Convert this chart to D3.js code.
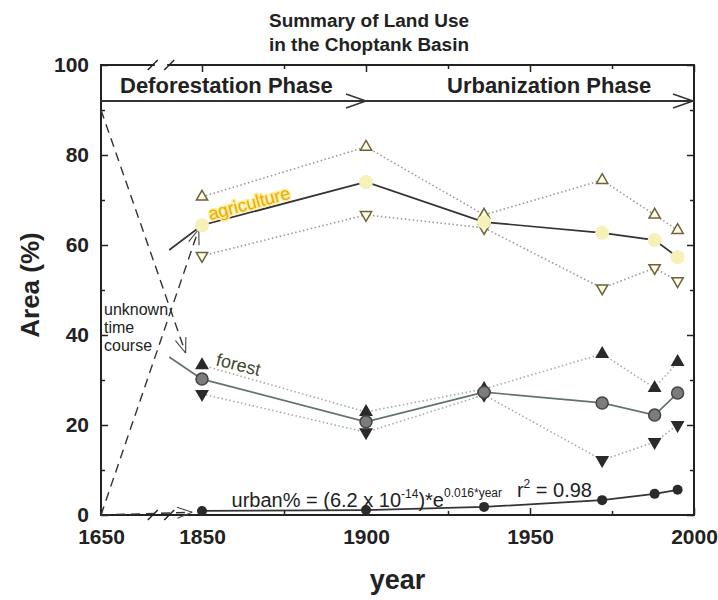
<!DOCTYPE html>
<html>
  <head>
    <meta charset="utf-8">
    <script src="https://d3js.org/d3.v7.min.js"></script>
    <title>Summary of Land Use in the Choptank Basin</title>
    <style>
      body {
        margin: 0px;
        background: #fff;
      }
      text {
        font-family: "Liberation Sans", Arial, sans-serif;
        fill: #222;
      }
      .domain {
        display: none;
      }
      .tick line {
        stroke: #222;
        stroke-width: 1.5;
      }
      .tick text {
        font-size: 21px;
        font-weight: bold;
      }
    </style>
  </head>
  <body>
    <script>
      // survey years and land-use shares (% of basin area)
      const years = [1850, 1900, 1936, 1972, 1988, 1995];
      const agriMean = [64.4, 74.0, 65.1, 62.7, 61.1, 57.3];
      const agriHigh = [70.7, 81.8, 66.7, 74.4, 66.7, 63.3];
      const agriLow = [57.6, 66.7, 63.8, 50.4, 54.9, 52.0];
      const forestMean = [30.2, 20.7, 27.3, 24.9, 22.2, 27.1];
      const forestHigh = [33.3, 22.9, 28.0, 35.8, 28.2, 34.0];
      const forestLow = [26.9, 18.4, 26.7, 12.2, 16.2, 20.0];
      const urban = [0.9, 1.1, 1.8, 3.3, 4.7, 5.6];

      // short lead-in before 1850
      const preYear = 1840;
      const agriPre = 58.9;
      const forestPre = 35.1;

      // "unknown time course" guesses from 1650
      const forestGuess = [[1650, 90], [1845, 36]];
      const agriGuess = [[1650, 0], [1849, 63.5]];
      const urbanGuess = [[1650, 0], [1847, 0.6]];

      // axis ticks
      const xTicks = [1650, 1850, 1900, 1950, 2000];
      const xMinor = [1875, 1925, 1975];
      const yTicks = [0, 20, 40, 60, 80, 100];
      const yMinor = [10, 30, 50, 70, 90];

      const svg = d3.select('body').append('svg')
        .attr('width', 718)
        .attr('height', 600);

      const margin = { left: 101, right: 24, top: 65, bottom: 85 };
      const width = 718 - margin.left - margin.right;
      const height = 600 - margin.top - margin.bottom;

      // broken x axis: 1650 squeezed to the left edge, linear from 1825 on
      const x = d3.scaleLinear().domain([1650, 1825, 2000]).range([0, 19, width]);
      const y = d3.scaleLinear().domain([0, 100]).range([height, 0]);

      const g = svg.append('g')
        .attr('transform', `translate(${margin.left},${margin.top})`);

      // title
      svg.append('text')
        .attr('x', 369).attr('y', 27)
        .attr('text-anchor', 'middle')
        .style('font-size', '18px').style('font-weight', 'bold')
        .attr('textLength', 200).attr('lengthAdjust', 'spacingAndGlyphs')
        .text('Summary of Land Use');
      svg.append('text')
        .attr('x', 369).attr('y', 51)
        .attr('text-anchor', 'middle')
        .style('font-size', '18px').style('font-weight', 'bold')
        .attr('textLength', 200).attr('lengthAdjust', 'spacingAndGlyphs')
        .text('in the Choptank Basin');

      // axes (ticks point inward)
      g.append('g')
        .attr('transform', `translate(0,${height})`)
        .call(d3.axisBottom(x).tickValues(xTicks).tickFormat(d3.format('d')).tickSize(-7).tickPadding(14));
      g.append('g')
        .attr('transform', `translate(0,${height})`)
        .call(d3.axisBottom(x).tickValues(xMinor).tickFormat('').tickSize(-4));
      g.append('g')
        .call(d3.axisTop(x).tickValues(xTicks.slice(1)).tickFormat('').tickSize(-7));
      g.append('g')
        .call(d3.axisTop(x).tickValues(xMinor).tickFormat('').tickSize(-4));

      g.append('g')
        .call(d3.axisLeft(y).tickValues(yTicks).tickSize(-7).tickPadding(12));
      g.append('g')
        .call(d3.axisLeft(y).tickValues(yMinor).tickFormat('').tickSize(-4));
      g.append('g')
        .attr('transform', `translate(${width},0)`)
        .call(d3.axisRight(y).tickValues(yTicks).tickFormat('').tickSize(-7));
      g.append('g')
        .attr('transform', `translate(${width},0)`)
        .call(d3.axisRight(y).tickValues(yMinor).tickFormat('').tickSize(-4));

      // frame
      g.append('rect')
        .attr('width', width).attr('height', height)
        .attr('fill', 'none')
        .attr('stroke', '#222')
        .attr('stroke-width', 2);

      // axis break marks
      [1835, 1840].forEach(yr => {
        [0, height].forEach(yy => {
          g.append('line')
            .attr('x1', x(yr) - 5).attr('y1', yy + 5)
            .attr('x2', x(yr) + 5).attr('y2', yy - 5)
            .attr('stroke', '#222').attr('stroke-width', 1.5);
        });
      });
      g.append('line')
        .attr('x1', x(1835) + 2).attr('x2', x(1840) - 2)
        .attr('y1', 0).attr('y2', 0)
        .attr('stroke', '#fff').attr('stroke-width', 3);

      // axis labels
      svg.append('text')
        .attr('x', margin.left + width / 2).attr('y', 589)
        .attr('text-anchor', 'middle')
        .style('font-size', '27px').style('font-weight', 'bold')
        .text('year');
      svg.append('text')
        .attr('transform', 'translate(39,285) rotate(-90)')
        .attr('text-anchor', 'middle')
        .style('font-size', '26px').style('font-weight', 'bold')
        .text('Area (%)');

      // phase arrows
      const phaseY = y(92);
      const arrow = (x1, x2) => {
        g.append('line')
          .attr('x1', x1).attr('x2', x2)
          .attr('y1', phaseY).attr('y2', phaseY)
          .attr('stroke', '#333').attr('stroke-width', 2);
        g.append('path')
          .attr('d', `M${x2 - 20},${phaseY - 7}L${x2},${phaseY}L${x2 - 20},${phaseY + 7}`)
          .attr('fill', 'none').attr('stroke', '#333').attr('stroke-width', 1.5);
      };
      arrow(x(1650), x(1900));
      arrow(x(1900), x(2000) - 1);
      g.append('text')
        .attr('x', 19).attr('y', phaseY - 8)
        .style('font-size', '22px').style('font-weight', 'bold')
        .text('Deforestation Phase');
      g.append('text')
        .attr('x', 346).attr('y', phaseY - 8)
        .style('font-size', '22px').style('font-weight', 'bold')
        .text('Urbanization Phase');

      // dashed guesses with open heads
      const guess = pts => {
        const p0 = [x(pts[0][0]), y(pts[0][1])];
        const p1 = [x(pts[1][0]), y(pts[1][1])];
        g.append('line')
          .attr('x1', p0[0]).attr('y1', p0[1])
          .attr('x2', p1[0]).attr('y2', p1[1])
          .attr('stroke', '#333').attr('stroke-width', 1.4)
          .attr('stroke-dasharray', '9,6');
        const a = Math.atan2(p1[1] - p0[1], p1[0] - p0[0]);
        [-0.35, 0.35].forEach(da => {
          g.append('line')
            .attr('x1', p1[0]).attr('y1', p1[1])
            .attr('x2', p1[0] - 16 * Math.cos(a + da))
            .attr('y2', p1[1] - 16 * Math.sin(a + da))
            .attr('stroke', '#444').attr('stroke-width', 1.1);
        });
      };
      guess(forestGuess);
      guess(agriGuess);
      guess(urbanGuess);

      g.append('text')
        .attr('x', 3).attr('y', 250)
        .style('font-size', '16px')
        .selectAll('tspan')
        .data(['unknown', 'time', 'course'])
        .join('tspan')
          .attr('x', 3)
          .attr('dy', (d, i) => i ? 18 : 0)
          .text(d => d);

      const line = d3.line()
        .x(d => x(d[0]))
        .y(d => y(d[1]));
      const zip = vals => years.map((yr, i) => [yr, vals[i]]);

      // dotted envelopes
      [agriHigh, agriLow].forEach(vals => {
        g.append('path')
          .attr('d', line(zip(vals)))
          .attr('fill', 'none')
          .attr('stroke', '#9c9a90').attr('stroke-width', 1.6)
          .attr('stroke-dasharray', '1.5,2.5');
      });
      [forestHigh, forestLow].forEach(vals => {
        g.append('path')
          .attr('d', line(zip(vals)))
          .attr('fill', 'none')
          .attr('stroke', '#a4aca6').attr('stroke-width', 1.6)
          .attr('stroke-dasharray', '1.5,2.5');
      });

      // mean lines
      g.append('path')
        .attr('d', line([[preYear, agriPre]].concat(zip(agriMean))))
        .attr('fill', 'none')
        .attr('stroke', '#333').attr('stroke-width', 1.7);
      g.append('path')
        .attr('d', line([[preYear, forestPre]].concat(zip(forestMean))))
        .attr('fill', 'none')
        .attr('stroke', '#62736b').attr('stroke-width', 1.7);
      g.append('path')
        .attr('d', line(zip(urban)))
        .attr('fill', 'none')
        .attr('stroke', '#333').attr('stroke-width', 1.7);

      // markers
      const tri = d3.symbol(d3.symbolTriangle, 55);
      const marks = (vals, rot, fill, stroke) => {
        g.append('g').selectAll('path')
          .data(zip(vals))
          .join('path')
            .attr('d', tri)
            .attr('transform', d => `translate(${x(d[0])},${y(d[1])}) rotate(${rot})`)
            .attr('fill', fill)
            .attr('stroke', stroke)
            .attr('stroke-width', 1.5);
      };
      marks(agriHigh, 0, '#fffbe8', '#6f6235');
      marks(agriLow, 180, '#fffbe8', '#6f6235');
      marks(forestHigh, 0, '#2a2a2a', '#2a2a2a');
      marks(forestLow, 180, '#2a2a2a', '#2a2a2a');

      g.append('g').selectAll('circle')
        .data(zip(agriMean))
        .join('circle')
          .attr('cx', d => x(d[0])).attr('cy', d => y(d[1]))
          .attr('r', 7)
          .attr('fill', '#f6f1b8');
      g.append('g').selectAll('circle')
        .data(zip(forestMean))
        .join('circle')
          .attr('cx', d => x(d[0])).attr('cy', d => y(d[1]))
          .attr('r', 6)
          .attr('fill', '#7c7c7c').attr('stroke', '#444').attr('stroke-width', 1.5);
      g.append('g').selectAll('circle')
        .data(zip(urban))
        .join('circle')
          .attr('cx', d => x(d[0])).attr('cy', d => y(d[1]))
          .attr('r', 5)
          .attr('fill', '#2a2a2a');

      // series labels
      g.append('text')
        .attr('transform', `translate(${x(1852.5)},${y(65.5)}) rotate(-15)`)
        .style('font-size', '18px')
        .style('fill', '#eeaa00')
        .style('stroke', '#fbf0a0').style('stroke-width', 3).style('paint-order', 'stroke')
        .text('agriculture');
      g.append('text')
        .attr('transform', `translate(${x(1854)},${y(33.3)}) rotate(14)`)
        .style('font-size', '18px')
        .style('fill', '#3f4a30')
        .text('forest');

      // fit equation
      const eq = g.append('text')
        .attr('x', x(1859)).attr('y', y(1.8))
        .style('font-size', '20px');
      eq.append('tspan').text('urban% = (6.2 x 10');
      eq.append('tspan').attr('dy', -9).style('font-size', '12px').text('-14');
      eq.append('tspan').attr('dy', 9).text(')*e');
      eq.append('tspan').attr('dy', -10).style('font-size', '12px').text('0.016*year');

      const r2 = g.append('text')
        .attr('x', x(1946)).attr('y', y(3.9))
        .style('font-size', '20px');
      r2.append('tspan').text('r');
      r2.append('tspan').attr('dy', -9).style('font-size', '12px').text('2');
      r2.append('tspan').attr('dy', 9).text(' = 0.98');
    </script>
  </body>
</html>
